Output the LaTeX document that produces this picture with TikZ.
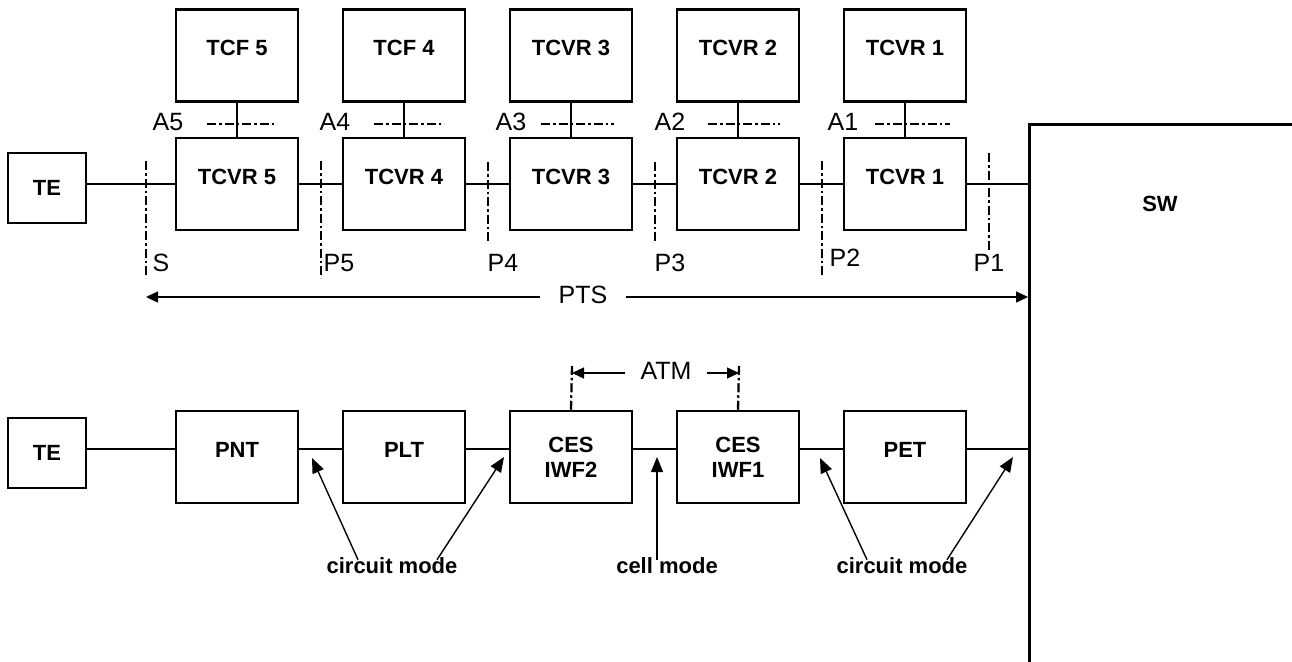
\documentclass[tikz,border=0pt]{standalone}
\usepackage{fontspec}
\setmainfont{Liberation Sans}
\usetikzlibrary{arrows.meta}
\begin{document}
\begin{tikzpicture}[x=1pt,y=-1pt,
  box/.style={draw,line width=2.5pt,minimum width=122pt,minimum height=92pt,inner sep=0pt,align=center,font=\bfseries\fontsize{22}{25}\selectfont},
  raised/.style={text height=16pt,text depth=15pt},
  tebox/.style={draw,line width=2.5pt,minimum width=78pt,minimum height=70pt,inner sep=0pt,font=\bfseries\fontsize{22}{25}\selectfont},
  wire/.style={line width=2.5pt},
  dashdot/.style={line width=2.3pt,dash pattern=on 9pt off 3pt on 2.5pt off 3pt},
  lbl/.style={inner sep=0pt,font=\fontsize{25}{28}\selectfont},
  note/.style={inner sep=0pt,font=\bfseries\fontsize{22}{25}\selectfont},
  ptr/.style={line width=1.4pt,-{Triangle[length=15pt,width=12pt]}},
  dim/.style={line width=1.4pt,-{Triangle[length=12pt,width=11pt]}}
]
\useasboundingbox (0,0) rectangle (1292,661);
\clip (0,0) rectangle (1292,661);

% switch
\node[draw,line width=2.5pt,minimum width=400pt,minimum height=700pt,inner sep=0pt,anchor=north west] (sw) at (1028,123) {};
\node[note] (swl) at (1160,204) {SW};

% top row (TCF / remote TCVR)
\node[box,raised] (tcf5) at (237,55.5) {TCF 5};
\node[box,raised] (tcf4) at (404,55.5) {TCF 4};
\node[box,raised] (top3) at (571,55.5) {TCVR 3};
\node[box,raised] (top2) at (738,55.5) {TCVR 2};
\node[box,raised] (top1) at (905,55.5) {TCVR 1};

% middle row
\node[tebox] (te1) at (47,188) {TE};
\node[box,raised] (tcvr5) at (237,184) {TCVR 5};
\node[box,raised] (tcvr4) at (404,184) {TCVR 4};
\node[box,raised] (tcvr3) at (571,184) {TCVR 3};
\node[box,raised] (tcvr2) at (738,184) {TCVR 2};
\node[box,raised] (tcvr1) at (905,184) {TCVR 1};

\draw[wire] (te1.east |- tcvr5.west) -- (tcvr5.west);
\draw[wire] (tcvr5.east) -- (tcvr4.west);
\draw[wire] (tcvr4.east) -- (tcvr3.west);
\draw[wire] (tcvr3.east) -- (tcvr2.west);
\draw[wire] (tcvr2.east) -- (tcvr1.west);
\draw[wire] (tcvr1.east) -- (tcvr1.east -| sw.west);

\draw[wire] (tcf5.south) -- (tcvr5.north);
\draw[wire] (tcf4.south) -- (tcvr4.north);
\draw[wire] (top3.south) -- (tcvr3.north);
\draw[wire] (top2.south) -- (tcvr2.north);
\draw[wire] (top1.south) -- (tcvr1.north);

% A reference lines
\draw[dashdot] (207,124) -- (277,124);
\draw[dashdot] (374,124) -- (444,124);
\draw[dashdot] (541,124) -- (614,124);
\draw[dashdot] (708,124) -- (780,124);
\draw[dashdot] (875,124) -- (950,124);
\node[lbl] (a5) at (168,122) {A5};
\node[lbl] (a4) at (335,122) {A4};
\node[lbl] (a3) at (511,122) {A3};
\node[lbl] (a2) at (670,122) {A2};
\node[lbl] (a1) at (843,122) {A1};

% P reference lines
\draw[dashdot] (146,161) -- (146,278);
\draw[dashdot] (321,161) -- (321,278);
\draw[dashdot] (488,162) -- (488,242);
\draw[dashdot] (655,162) -- (655,242);
\draw[dashdot] (822,161) -- (822,278);
\draw[dashdot] (989,153) -- (989,250);
\node[lbl] (ls) at (161,263) {S};
\node[lbl] (lp5) at (339,263) {P5};
\node[lbl] (lp4) at (503,263) {P4};
\node[lbl] (lp3) at (670,263) {P3};
\node[lbl] (lp2) at (845,258) {P2};
\node[lbl] (lp1) at (989,263) {P1};

% PTS
\coordinate (ptsL) at (146,297);
\coordinate (ptsR) at (1028,297);
\node[lbl,inner xsep=18pt] (pts) at (583,295) {PTS};
\draw[dim] (pts.west |- ptsL) -- (ptsL);
\draw[dim] (pts.east |- ptsR) -- (ptsR);

% bottom row
\node[tebox] (te2) at (47,453) {TE};
\node[box,raised] (pnt) at (237,457) {PNT};
\node[box,raised] (plt) at (404,457) {PLT};
\node[box] (ces2) at (571,457) {CES\\IWF2};
\node[box] (ces1) at (738,457) {CES\\IWF1};
\node[box,raised] (pet) at (905,457) {PET};

\coordinate (b0) at ([yshift=8pt]pnt.west);
\draw[wire] (te2.east |- b0) -- (b0);
\draw[wire] ([yshift=8pt]pnt.east) -- ([yshift=8pt]plt.west);
\draw[wire] ([yshift=8pt]plt.east) -- ([yshift=8pt]ces2.west);
\draw[wire] ([yshift=8pt]ces2.east) -- ([yshift=8pt]ces1.west);
\draw[wire] ([yshift=8pt]ces1.east) -- ([yshift=8pt]pet.west);
\coordinate (b5) at ([yshift=8pt]pet.east);
\draw[wire] (b5) -- (b5 -| sw.west);

% ATM
\coordinate (atmL) at (572,373);
\coordinate (atmR) at (739,373);
\draw[dashdot] (ces2.north) -- (572,366);
\draw[dashdot] (ces1.north) -- (739,366);
\node[lbl,inner xsep=15pt] (atm) at (666,371) {ATM};
\draw[dim] (atm.west |- atmL) -- (atmL);
\draw[dim] (atm.east |- atmR) -- (atmR);

% mode labels
\node[note] (cm1) at (392,566) {circuit mode};
\node[note] (cell) at (667,566) {cell mode};
\node[note] (cm2) at (902,566) {circuit mode};
\coordinate (t1) at (312,458);
\coordinate (t2) at (504,457);
\coordinate (t3) at (657,457);
\coordinate (t4) at (820,458);
\coordinate (t5) at (1013,457);
\draw[ptr] ([shift={(-34pt,-2pt)}]cm1.north) -- (t1);
\draw[ptr] ([shift={(45pt,-2pt)}]cm1.north) -- (t2);
\draw[ptr] ([shift={(-10pt,-2pt)}]cell.north) -- (t3);
\draw[ptr] ([shift={(-35pt,-2pt)}]cm2.north) -- (t4);
\draw[ptr] ([shift={(45pt,-2pt)}]cm2.north) -- (t5);
\end{tikzpicture}
\end{document}
